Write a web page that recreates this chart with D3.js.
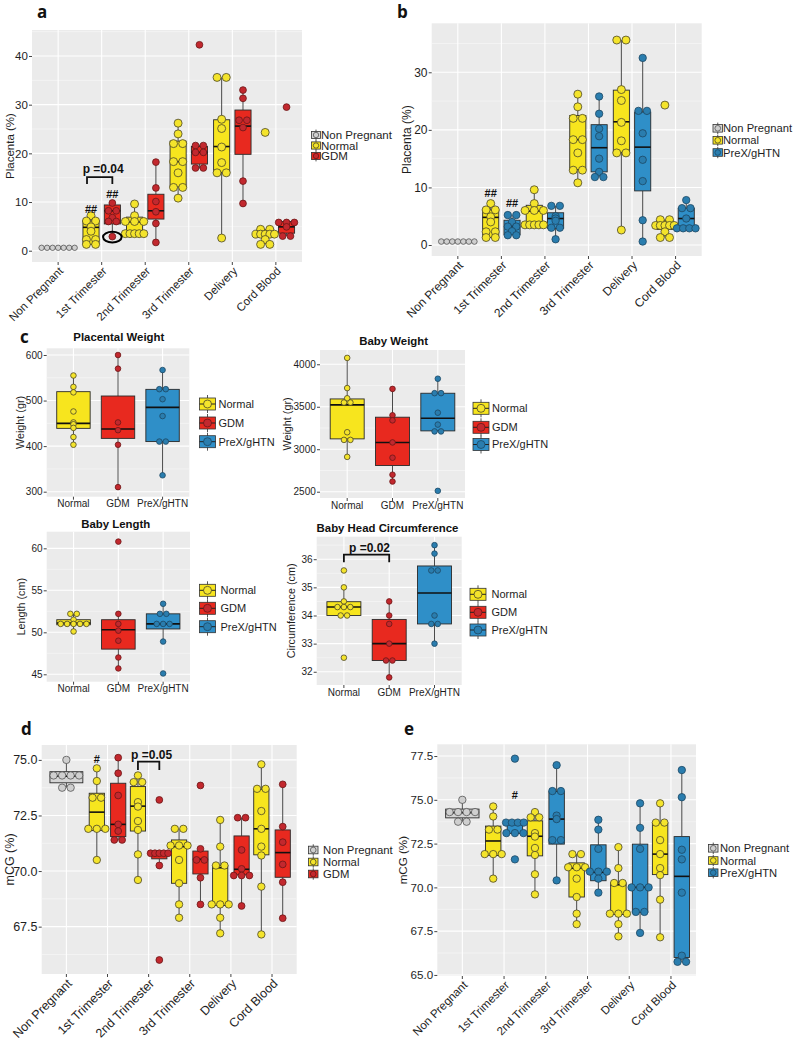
<!DOCTYPE html>
<html><head><meta charset="utf-8">
<script src="https://cdn.jsdelivr.net/npm/d3@7"></script>
<style>body{margin:0;background:#fff;} svg{display:block;font-family:"Liberation Sans",Arial,Helvetica,sans-serif;}</style>
</head><body><svg id="c" width="800" height="1043"></svg>
<script>
// ---------- categories ----------
const categories = ["Non Pregnant","1st Trimester","2nd Trimester","3rd Trimester","Delivery","Cord Blood"];
const outcomeCats = ["Normal","GDM","PreX/gHTN"];
const legendGDM = ["Non Pregnant","Normal","GDM"];
const legendPreX = ["Non Pregnant","Normal","PreX/gHTN"];

// ---------- Placenta (%) : points per category (1st..Cord) and box stats [lo,q1,med,q3,hi] ----------
const placentaNonPreg = [0.6,0.6,0.6,0.6,0.6,0.6,0.6];
const placentaNonPregBox = [0.6,0.6,0.6,0.6,0.6];
const placentaNormal = [
  [7.2,6.1,6.1,4.9,4.0,2.3,2.3,1.3,1.3],
  [9.6,7.2,6.0,6.0,6.0,3.5,3.5,3.5,3.5,3.5],
  [26.2,24.0,22.0,22.0,18.3,18.3,16.0,13.0,13.0,10.8],
  [35.6,35.6,27.0,25.1,21.3,18.1,16.0,16.0,2.6],
  [24.3,4.4,4.4,3.4,3.4,3.4,3.4,3.4,2.3,1.3,1.3]];
const placentaNormalBox = [[1.3,1.3,4.8,6.1,7.2],[3.5,3.5,5.9,6.9,9.6],[10.8,13.1,18.3,22.5,26.2],[2.6,16.1,21.4,26.9,35.6],[1.3,2.7,3.4,4.3,4.4]];
const placentaGDM = [
  [9.8,8.2,8.2,6.8,6.0,6.0,2.9],
  [18.2,12.9,10.1,8.0,5.6,1.7],
  [42.3,21.6,21.6,20.2,20.2,17.0,17.0],
  [33.0,31.3,26.8,26.8,25.3,14.3,9.7],
  [29.5,5.8,5.8,5.8,4.9,3.0,3.0]];
const placentaGDMBox = [[2.9,5.5,8.2,9.4,9.8],[1.7,6.5,8.2,11.6,18.2],[16.9,17.8,20.2,21.4,21.8],[9.7,19.8,25.6,28.9,33.0],[3.0,3.6,4.9,6.0,6.0]];
const placentaPreX = [
  [5.2,5.2,4.0,3.2,3.2,2.4,1.7,1.7],
  [6.8,6.8,5.0,4.6,4.2,3.0,3.0,1.0],
  [25.8,22.8,20.2,18.9,15.0,12.7,11.8,11.8],
  [32.5,23.3,23.3,19.4,14.8,11.1,4.3,0.6],
  [7.8,6.4,6.4,4.6,2.9,2.9,2.9,2.9]];
const placentaPreXBox = [[1.7,1.8,3.2,4.3,5.2],[1.0,2.9,4.6,5.6,6.8],[11.8,12.7,16.9,20.9,25.8],[0.6,9.4,17.0,23.1,32.5],[2.9,2.9,4.6,6.4,7.8]];

// ---------- mCG (%) ----------
const mcgNonPreg = [75.0,74.3,74.3,74.3,74.3,73.75,73.75];
const mcgNonPregBox = [73.75,73.97,74.27,74.47,75.0];
const mcgNormal = [
  [74.62,74.05,73.3,73.3,71.9,71.9,71.9,70.5],
  [74.3,74.0,74.0,73.1,72.9,72.25,71.85,70.75,69.6],
  [71.9,71.9,71.15,71.15,71.15,70.5,69.45,68.5,67.9],
  [72.3,71.1,70.25,70.25,68.5,68.5,68.5,67.9,67.2],
  [74.8,73.7,73.7,72.7,71.9,71.1,70.7,69.3,67.15]];
const mcgNormalBox = [[70.5,71.82,72.65,73.5,74.62],[69.6,71.8,72.92,73.8,74.3],[67.9,69.45,71.1,71.4,71.9],[67.2,68.45,70.15,70.25,72.3],[67.15,70.73,71.9,73.68,74.8]];
const mcgGDM = [
  [75.1,74.4,73.4,72.1,71.8,71.4,71.4],
  [73.2,70.8,70.8,70.8,70.8,70.8,70.25,66.0],
  [73.85,71.0,70.5,70.5,69.7,68.5],
  [72.4,72.4,70.95,70.1,69.8,69.8,69.8,68.43],
  [73.9,72.0,71.3,70.3,69.5,67.88]];
const mcgGDMBox = [[71.4,71.55,72.1,73.95,75.1],[70.25,70.55,70.8,70.85,70.85],[68.5,69.87,70.53,70.9,71.0],[68.43,69.83,70.08,71.58,72.4],[67.88,69.72,70.83,71.85,73.9]];
const mcgPreX = [
  [77.35,73.7,73.7,73.7,73.7,73.1,73.1,73.1,71.6],
  [76.98,75.5,75.5,74.1,73.9,72.7,72.7,70.4],
  [73.86,73.3,72.2,70.9,70.9,70.9,70.5,69.7],
  [74.8,73.4,72.2,70.0,70.0,70.0,68.6,68.6,67.4],
  [76.7,75.15,72.15,71.6,69.7,66.1,65.75,65.75]];
const mcgPreXBox = [[73.08,73.08,73.67,73.76,73.76],[70.4,72.47,73.9,75.47,76.98],[69.7,70.38,70.86,72.43,73.86],[67.4,68.57,70.0,72.47,74.8],[65.72,66.0,70.63,72.9,76.7]];

// ---------- panel c: points per outcome [Normal, GDM, PreX] and box stats ----------
const placentalWeight = [[555,530,518,476,452,448,440,420,403],[600,570,452,435,403,310],[567,525,525,503,466,410,410,336]];
const placentalWeightBox = [[403,439,450,519.5,557],[311,417,437.6,510,601],[336,410,485,524.6,567]];
const babyWeight = [[4075,3720,3600,3550,3550,3200,3110,3110,2910],[3710,3400,3340,3080,2900,2700,2620],[3830,3660,3660,3430,3290,3210,3210,2510]];
const babyWeightBox = [[2910,3122,3522,3592,4078],[2620,2808,3079,3377,3718],[3210,3216,3365,3659,3835]];
const babyLength = [[52.2,52.2,51.5,51.0,51.0,51.0,51.0,51.0,50.1],[60.8,52.2,51.0,50.2,49.0,47.0,45.7],[53.4,52.2,52.2,51.0,51.0,51.0,48.9,45.1]];
const babyLengthBox = [[50.1,50.9,51.1,51.5,52.2],[45.7,48.0,50.3,51.5,52.2],[48.9,50.4,51.0,52.2,53.4]];
const headCirc = [[35.6,35.0,34.5,34.3,34.3,34.3,34.0,34.0,32.5],[34.5,34.0,33.7,33.0,32.4,32.4,31.8],[36.5,36.2,35.6,35.6,34.0,33.7,33.7,33.0]];
const headCircBox = [[34.0,34.0,34.3,34.49,35.0],[31.8,32.4,33.0,33.86,34.5],[33.0,33.7,34.8,35.76,36.5]];

// ---------- tick values ----------
const ticksA = [0,10,20,30,40], ticksB = [0,10,20,30];
const ticksD = [67.5,70,72.5,75], ticksE = [65,67.5,70,72.5,75,77.5];
const ticksPW = [300,400,500,600], ticksBW = [2500,3000,3500,4000], ticksBL = [45,50,55,60], ticksHC = [32,33,34,35,36];

// ---------- styling ----------
const COL = {
  "Non Pregnant": {box:"#D5D5D5", pt:"#CFCFCF", st:"#555"},
  "Normal": {box:"#F7E51E", pt:"#F4E42C", st:"#4a4528"},
  "GDM": {box:"#E8291F", pt:"#C2282E", st:"#6b1616"},
  "PreX/gHTN": {box:"#2F8FC8", pt:"#2A7DAE", st:"#1d4863"}
};
const TXT = "#1e1e1e";
const svg = d3.select("#c");

function frame(g, c, y, xs) {
  g.append("rect").attr("x",c.L).attr("y",c.T).attr("width",c.R-c.L).attr("height",c.B-c.T).attr("fill","#EBEBEB");
  const st = c.ticks[1]-c.ticks[0];
  const minor = [];
  for (let v = c.ticks[0]-st/2; v <= c.yDomain[1]; v += st) if (v >= c.yDomain[0]) minor.push(v);
  g.selectAll(null).data(minor).join("line").attr("x1",c.L).attr("x2",c.R)
    .attr("y1",d=>y(d)).attr("y2",d=>y(d)).attr("stroke","#F8F8F8").attr("stroke-width",0.6);
  g.selectAll(null).data(c.ticks).join("line").attr("x1",c.L).attr("x2",c.R)
    .attr("y1",d=>y(d)).attr("y2",d=>y(d)).attr("stroke","#fff").attr("stroke-width",1.1);
  g.selectAll(null).data(xs).join("line").attr("x1",d=>d).attr("x2",d=>d)
    .attr("y1",c.T).attr("y2",c.B).attr("stroke","#fff").attr("stroke-width",1.1);
  const ax = g.append("g").attr("transform",`translate(${c.L},0)`)
    .call(d3.axisLeft(y).tickValues(c.ticks).tickSize(3).tickPadding(1.2).tickFormat(c.fmt || d3.format("d")));
  ax.select(".domain").remove();
  ax.selectAll("line").attr("stroke","#444");
  ax.selectAll("text").attr("font-size",c.fs).attr("fill",TXT).style("font-family","'Liberation Sans',Arial,sans-serif");
  g.selectAll(null).data(xs).join("line").attr("x1",d=>d).attr("x2",d=>d)
    .attr("y1",c.B).attr("y2",c.B+3).attr("stroke","#444");
  g.append("text").attr("transform",`translate(${c.yTitleX},${(c.T+c.B)/2}) rotate(-90)`)
    .attr("text-anchor","middle").attr("dy","0.35em").attr("font-size",c.yfs||c.fs).attr("fill",TXT).text(c.yTitle);
}

function drawBox(g, cx, bw, b, y, col) {
  const [lo,q1,med,q3,hi] = b;
  g.append("line").attr("x1",cx).attr("x2",cx).attr("y1",y(hi)).attr("y2",y(q3)).attr("stroke","#4a4a4a").attr("stroke-width",1);
  g.append("line").attr("x1",cx).attr("x2",cx).attr("y1",y(q1)).attr("y2",y(lo)).attr("stroke","#4a4a4a").attr("stroke-width",1);
  g.append("rect").attr("x",cx-bw/2).attr("width",bw).attr("y",y(q3)).attr("height",Math.max(0.5,y(q1)-y(q3)))
    .attr("fill",col.box).attr("stroke","#2a2a2a").attr("stroke-width",0.9);
  g.append("line").attr("x1",cx-bw/2).attr("x2",cx+bw/2).attr("y1",y(med)).attr("y2",y(med)).attr("stroke","#111").attr("stroke-width",1.6);
}

function drawDots(g, cx, pts, y, r, col, spread) {
  const rows = d3.groups(pts, v => Math.round(v*100)/100);
  rows.forEach(([v, arr]) => {
    const n = arr.length;
    const sp = n > 1 ? Math.min(2*r*1.15, spread/(n-1)) : 0;
    arr.forEach((_, i) => {
      g.append("circle").attr("cx", cx + (i-(n-1)/2)*sp).attr("cy", y(v)).attr("r", r)
        .attr("fill", col.pt).attr("stroke", col.st).attr("stroke-width", 0.8);
    });
  });
}

function grouped(c) {
  const g = svg.append("g");
  const x = d3.scalePoint().domain(categories).range([c.L,c.R]).padding(0.6);
  const y = d3.scaleLinear().domain(c.yDomain).range([c.B,c.T]);
  frame(g, c, y, categories.map(d=>x(d)));
  categories.forEach(d => g.append("text").attr("transform",`translate(${x(d)},${c.B+4}) rotate(-45)`)
    .attr("text-anchor","end").attr("dy","0.71em").attr("font-size",c.fs).attr("fill",TXT).text(d));
  const step = x.step();
  const items = [];
  c.series.forEach(s => s.cats.forEach((ci,k) => {
    const single = ci === 0;
    const bw = (single ? 0.8 : 0.37) * step;
    items.push({s, cx: x(categories[ci]) + (single ? 0 : s.off*step), bw, pts: s.pts[k], box: s.box[k], spread: single ? bw*0.95 : bw*1.15});
  }));
  items.forEach(it => drawBox(g, it.cx, it.bw, it.box, y, COL[it.s.name]));
  items.forEach(it => drawDots(g, it.cx, it.pts, y, it.s.r, COL[it.s.name], it.spread));
  c.legend.forEach((name, i) => {
    const ly = c.legY[i], kx = c.legX, col = COL[name], k = c.legK;
    g.append("line").attr("x1",kx+k/2).attr("x2",kx+k/2).attr("y1",ly-k*0.6).attr("y2",ly+k*0.6).attr("stroke","#555");
    g.append("rect").attr("x",kx).attr("y",ly-k*0.4).attr("width",k).attr("height",k*0.8).attr("fill",col.box).attr("stroke","#333").attr("stroke-width",0.8);
    g.append("circle").attr("cx",kx+k/2).attr("cy",ly).attr("r",k*0.3).attr("fill",col.pt).attr("stroke",col.st).attr("stroke-width",0.8);
    g.append("text").attr("x",c.legTX).attr("y",ly).attr("dy","0.36em").attr("font-size",c.lfs).attr("fill",TXT).text(name);
  });
  return {x, y, step, g};
}

function simple(c) {
  const g = svg.append("g");
  const x = d3.scalePoint().domain(outcomeCats).range([c.L,c.R]).padding(0.6);
  const y = d3.scaleLinear().domain(c.yDomain).range([c.B,c.T]);
  frame(g, c, y, outcomeCats.map(d=>x(d)));
  outcomeCats.forEach(d => g.append("text").attr("x",x(d)).attr("y",c.B+10.5).attr("text-anchor","middle")
    .attr("font-size",c.fs).attr("fill",TXT).text(d));
  g.append("text").attr("x",c.titleX).attr("y",c.titleY).attr("text-anchor","middle").attr("font-weight","bold")
    .attr("font-size",11.4).attr("fill","#111").text(c.title);
  const bw = 0.75 * x.step();
  outcomeCats.forEach((d,i) => drawBox(g, x(d), bw, c.box[i], y, COL[d]));
  outcomeCats.forEach((d,i) => drawDots(g, x(d), c.pts[i], y, 2.8, COL[d], bw*0.8));
  outcomeCats.forEach((name, i) => {
    const ly = c.legY[i], kx = c.legX, col = COL[name];
    g.append("line").attr("x1",kx+8).attr("x2",kx+8).attr("y1",ly-9).attr("y2",ly+9).attr("stroke","#555");
    g.append("rect").attr("x",kx).attr("y",ly-6).attr("width",16).attr("height",12).attr("fill",col.box).attr("stroke","#333").attr("stroke-width",0.8);
    g.append("line").attr("x1",kx).attr("x2",kx+16).attr("y1",ly).attr("y2",ly).attr("stroke","#222").attr("stroke-width",1);
    g.append("circle").attr("cx",kx+8).attr("cy",ly).attr("r",4).attr("fill",col.pt).attr("stroke",col.st).attr("stroke-width",0.8);
    g.append("text").attr("x",c.legTX).attr("y",ly).attr("dy","0.36em").attr("font-size",11).attr("fill",TXT).text(name);
  });
  return {x, y, g};
}

function bracket(g, x1, x2, yTop, yLeg, label, yLab, xs) {
  g.append("path").attr("d",`M${x1},${yLeg}V${yTop}H${x2}V${yLeg}`).attr("fill","none").attr("stroke","#111").attr("stroke-width",1.8);
  g.append("text").attr("x",xs).attr("y",yLab).attr("text-anchor","middle").attr("font-weight","bold").attr("font-size",12).attr("fill","#111").text(label);
}
function mark(g, x, y, t) {
  g.append("text").attr("x",x).attr("y",y).attr("text-anchor","middle").attr("font-weight","bold").attr("font-size",11).attr("fill","#111").text(t);
}
function letter(t, x, y) {
  svg.append("text").attr("x",x).attr("y",y).attr("font-family","'Open Sans',sans-serif").attr("font-weight","bold").attr("font-size",17).attr("fill","#111").text(t);
}

// ---------- panel a ----------
const pa = grouped({L:32,R:302,T:30,B:262,yDomain:[-2.32,45.34],ticks:ticksA,fs:11.5,yTitle:"Placenta (%)",yTitleX:10,
  series:[{name:"Non Pregnant",cats:[0],pts:[placentaNonPreg],box:[placentaNonPregBox],off:0,r:2.7},
          {name:"Normal",cats:[1,2,3,4,5],pts:placentaNormal,box:placentaNormalBox,off:-0.245,r:4},
          {name:"GDM",cats:[1,2,3,4,5],pts:placentaGDM,box:placentaGDMBox,off:0.245,r:3.4}],
  legend:legendGDM,legX:311.5,legK:9,legTX:321,legY:[135,145.5,156],lfs:11.5});
{
  const c1 = pa.x(categories[1]);
  bracket(pa.g, c1-0.245*pa.step-4, c1+0.245*pa.step, pa.y(15.1), pa.y(13.7), "p =0.04", pa.y(15.9), c1+1.5);
  mark(pa.g, c1-0.245*pa.step, pa.y(7.7), "##");
  mark(pa.g, c1+0.245*pa.step, pa.y(10.8), "##");
  pa.g.append("ellipse").attr("cx",c1+0.245*pa.step).attr("cy",pa.y(2.8)).attr("rx",9.3).attr("ry",5.3)
    .attr("fill","none").attr("stroke","#000").attr("stroke-width",2);
}
letter("a", 37, 18);

// ---------- panel b ----------
const pb = grouped({L:431.7,R:701.7,T:23.3,B:256,yDomain:[-1.91,38.51],ticks:ticksB,fs:12,yTitle:"Placenta (%)",yTitleX:406.5,
  series:[{name:"Non Pregnant",cats:[0],pts:[placentaNonPreg],box:[placentaNonPregBox],off:0,r:2.8},
          {name:"Normal",cats:[1,2,3,4,5],pts:placentaNormal,box:placentaNormalBox,off:-0.245,r:4},
          {name:"PreX/gHTN",cats:[1,2,3,4,5],pts:placentaPreX,box:placentaPreXBox,off:0.245,r:3.7}],
  legend:legendPreX,legX:713,legK:9.5,legTX:723,legY:[128.3,140.3,152.5],lfs:11.2});
{
  const c1 = pb.x(categories[1]);
  mark(pb.g, c1-0.245*pb.step, pb.y(8.4), "##");
  mark(pb.g, c1+0.245*pb.step, pb.y(6.65), "##");
}
letter("b", 397, 18);

// ---------- panel c ----------
letter("c", 20, 343);
simple({L:46.7,R:189.3,T:348.3,B:496.7,yDomain:[289,614.7],ticks:ticksPW,fs:10,yTitle:"Weight (gr)",yTitleX:20.5,yfs:10.8,
  title:"Placental Weight",titleX:118.8,titleY:341,pts:placentalWeight,box:placentalWeightBox,legX:199.5,legTX:218.5,legY:[404,423,441.7]});
simple({L:320,R:465,T:350,B:498,yDomain:[2426,4168],ticks:ticksBW,fs:10,yTitle:"Weight (gr)",yTitleX:287.5,yfs:10.8,
  title:"Baby Weight",titleX:393.7,titleY:345,pts:babyWeight,box:babyWeightBox,legX:473,legTX:492,legY:[408.3,427.3,444.5]});
simple({L:46.7,R:190,T:531.7,B:681.7,yDomain:[44.12,61.98],ticks:ticksBL,fs:10,yTitle:"Length (cm)",yTitleX:21,yfs:10.8,
  title:"Baby Length",titleX:115.8,titleY:528,pts:babyLength,box:babyLengthBox,legX:199.5,legTX:220.5,legY:[590.3,608.3,626.7]});
const pc4 = simple({L:316.7,R:461.7,T:536.7,B:685,yDomain:[31.53,36.8],ticks:ticksHC,fs:10,yTitle:"Circumference (cm)",yTitleX:291.5,yfs:10.8,
  title:"Baby Head Circumference",titleX:387.5,titleY:531.7,pts:headCirc,box:headCircBox,legX:470,legTX:491.5,legY:[594.3,612.3,630]});
bracket(pc4.g, pc4.x("Normal"), pc4.x("GDM"), pc4.y(36.16), pc4.y(35.89), "p =0.02", pc4.y(36.25), (pc4.x("Normal")+pc4.x("GDM"))/2+3);

// ---------- panel d ----------
const pd = grouped({L:41.7,R:296.7,T:745,B:974,yDomain:[65.37,75.67],ticks:ticksD,fmt:d3.format(".1f"),fs:12.5,yTitle:"mCG (%)",yTitleX:9.5,
  series:[{name:"Non Pregnant",cats:[0],pts:[mcgNonPreg],box:[mcgNonPregBox],off:0,r:3.7},
          {name:"Normal",cats:[1,2,3,4,5],pts:mcgNormal,box:mcgNormalBox,off:-0.26,r:3.7},
          {name:"GDM",cats:[1,2,3,4,5],pts:mcgGDM,box:mcgGDMBox,off:0.26,r:3.4}],
  legend:legendGDM,legX:308.5,legK:9.5,legTX:323,legY:[850,862,874],lfs:11.3});
{
  const c1 = pd.x(categories[1]), c2 = pd.x(categories[2]);
  mark(pd.g, c1-0.26*pd.step, pd.y(74.88), "#");
  bracket(pd.g, c2-0.26*pd.step, c2+0.26*pd.step, pd.y(74.92), pd.y(74.55), "p =0.05", pd.y(75.03), c2+3);
}
letter("d", 21, 735);

// ---------- panel e ----------
const pe = grouped({L:437.3,R:696,T:744.3,B:976,yDomain:[64.94,78.17],ticks:ticksE,fmt:d3.format(".1f"),fs:11.6,yTitle:"mCG (%)",yTitleX:403,
  series:[{name:"Non Pregnant",cats:[0],pts:[mcgNonPreg],box:[mcgNonPregBox],off:0,r:3.7},
          {name:"Normal",cats:[1,2,3,4,5],pts:mcgNormal,box:mcgNormalBox,off:-0.26,r:3.7},
          {name:"PreX/gHTN",cats:[1,2,3,4,5],pts:mcgPreX,box:mcgPreXBox,off:0.26,r:3.7}],
  legend:legendPreX,legX:708.5,legK:9.5,legTX:720,legY:[848.3,860.5,872.7],lfs:11.2});
{
  const c1 = pe.x(categories[1]);
  mark(pe.g, c1+0.26*pe.step, pe.y(75.07), "#");
}
letter("e", 404, 735);
</script></body></html>
